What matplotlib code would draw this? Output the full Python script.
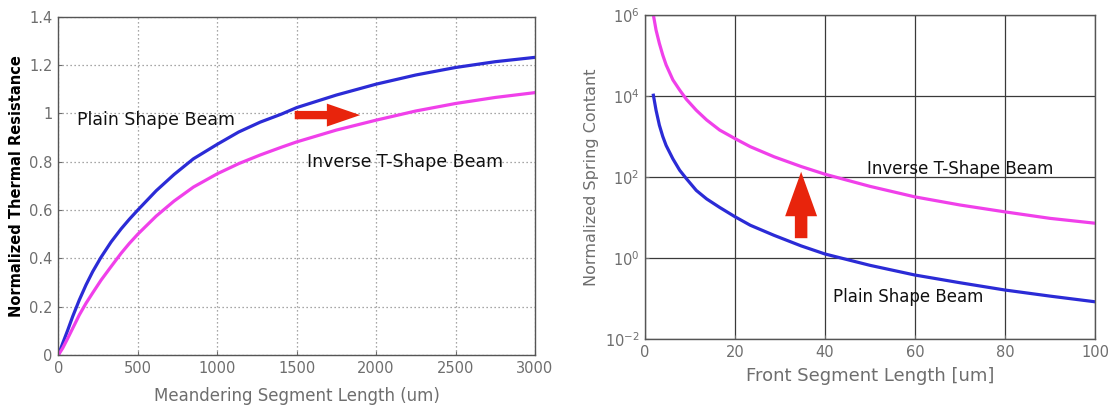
import numpy as np
import matplotlib
matplotlib.use("Agg")
import matplotlib.pyplot as plt
from matplotlib.ticker import NullLocator, FixedLocator

# Thermal resistance vs meandering segment length (um)
meander_len = [0, 27, 59, 90, 132, 174, 216, 269, 332, 395, 447, 500, 616, 728, 850,
               1000, 1135, 1271, 1404, 1500, 1750, 2000, 2250, 2500, 2750, 3000]
thermal_plain = [0, 0.048, 0.103, 0.159, 0.228, 0.29, 0.345, 0.405, 0.468, 0.522, 0.562, 0.60,
                 0.68, 0.747, 0.812, 0.872, 0.923, 0.964, 0.997, 1.024, 1.076, 1.121, 1.159,
                 1.19, 1.214, 1.232]
thermal_inverse_t = [0, 0.028, 0.069, 0.11, 0.166, 0.214, 0.257, 0.31, 0.366, 0.421, 0.462,
                     0.5, 0.575, 0.637, 0.695, 0.75, 0.792, 0.828, 0.86, 0.882, 0.931, 0.972,
                     1.01, 1.041, 1.066, 1.086]

# Spring constant vs front segment length (um), stored as log10 values
front_len = [1.87, 2.46, 3.2, 3.96, 4.7, 6.2, 7.7, 9.2, 11.4, 13.7, 16.6, 20, 23.4,
             28.7, 34.7, 40, 50, 60, 70, 80, 90, 100]
spring_inverse_t_log = [6.0, 5.63, 5.30, 5.01, 4.77, 4.40, 4.15, 3.92, 3.65, 3.41, 3.16,
                        2.95, 2.75, 2.50, 2.26, 2.07, 1.77, 1.51, 1.31, 1.14, 0.98, 0.86]
spring_plain_log = [4.02, 3.65, 3.28, 3.0, 2.78, 2.45, 2.17, 1.96, 1.67, 1.46, 1.25,
                    1.02, 0.81, 0.56, 0.30, 0.10, -0.18, -0.42, -0.61, -0.79, -0.94, -1.08]

BLUE = "#2b2bd6"
MAGENTA = "#f040ea"
RED = "#e8240c"
TICK_GRAY = "#6e6e6e"

fig = plt.figure(figsize=(11.18, 4.07), dpi=100)

# ---- left panel: thermal resistance ----
ax1 = fig.add_axes([0.0522, 0.1278, 0.4263, 0.831])
ax1.plot(meander_len, thermal_plain, color=BLUE, lw=2.3, solid_joinstyle="round")
ax1.plot(meander_len, thermal_inverse_t, color=MAGENTA, lw=2.3, solid_joinstyle="round")
ax1.set_xlim(0, 3000)
ax1.set_ylim(0, 1.4)
ax1.set_xticks(np.arange(0, 3001, 500))
ax1.set_yticks(np.arange(0, 1.41, 0.2))
ax1.set_yticklabels(["0", "0.2", "0.4", "0.6", "0.8", "1", "1.2", "1.4"])
ax1.grid(True, linestyle=(0, (1, 2.2)), color="#8a8a8a", lw=0.9)
ax1.set_xlabel("Meandering Segment Length (um)", color=TICK_GRAY, fontsize=12, labelpad=8)
ax1.set_ylabel("Normalized Thermal Resistance", color="black", fontsize=10.5,
               fontweight="bold", labelpad=4)
ax1.text(115, 0.973, "Plain Shape Beam", fontsize=12.5, va="center", color="#111111")
ax1.text(1563, 0.80, "Inverse T-Shape Beam", fontsize=12.5, va="center", color="#111111")
ax1.annotate("", xy=(1900, 0.993), xytext=(1488, 0.993),
             arrowprops=dict(arrowstyle="simple,head_width=1.65,head_length=2.4,tail_width=0.6",
                             color=RED, lw=0, shrinkA=0, shrinkB=0))

# ---- right panel: spring constant (log scale) ----
ax2 = fig.add_axes([0.5769, 0.167, 0.4025, 0.796])
ax2.semilogy(front_len, 10.0 ** np.array(spring_inverse_t_log), color=MAGENTA, lw=2.3,
             solid_joinstyle="round")
ax2.semilogy(front_len, 10.0 ** np.array(spring_plain_log), color=BLUE, lw=2.3,
             solid_joinstyle="round")
ax2.set_xlim(0, 100)
ax2.set_ylim(1e-2, 1e6)
ax2.set_xticks(np.arange(0, 101, 20))
ax2.yaxis.set_major_locator(FixedLocator([1e-2, 1e0, 1e2, 1e4, 1e6]))
ax2.yaxis.set_minor_locator(NullLocator())
ax2.grid(True, linestyle="-", color="#3a3a3a", lw=0.9)
ax2.set_xlabel("Front Segment Length [um]", color=TICK_GRAY, fontsize=13, labelpad=5)
ax2.set_ylabel("Normalized Spring Contant", color=TICK_GRAY, fontsize=11.5, labelpad=4)
ax2.text(49.3, 10 ** 2.21, "Inverse T-Shape Beam", fontsize=12, va="center", color="#111111")
ax2.text(41.8, 10 ** -0.955, "Plain Shape Beam", fontsize=12, va="center", color="#111111")
ax2.annotate("", xy=(34.7, 10 ** 2.13), xytext=(34.7, 10 ** 0.49),
             arrowprops=dict(arrowstyle="simple,head_width=2.3,head_length=3.2,tail_width=0.9",
                             color=RED, lw=0, shrinkA=0, shrinkB=0))

for ax in (ax1, ax2):
    ax.set_axisbelow(True)
    ax.tick_params(colors=TICK_GRAY, labelsize=10.5, length=3, direction="in", pad=4)
    for s in ax.spines.values():
        s.set_color("#555555")
        s.set_linewidth(1.0)

fig.savefig("out.png", dpi=100)
